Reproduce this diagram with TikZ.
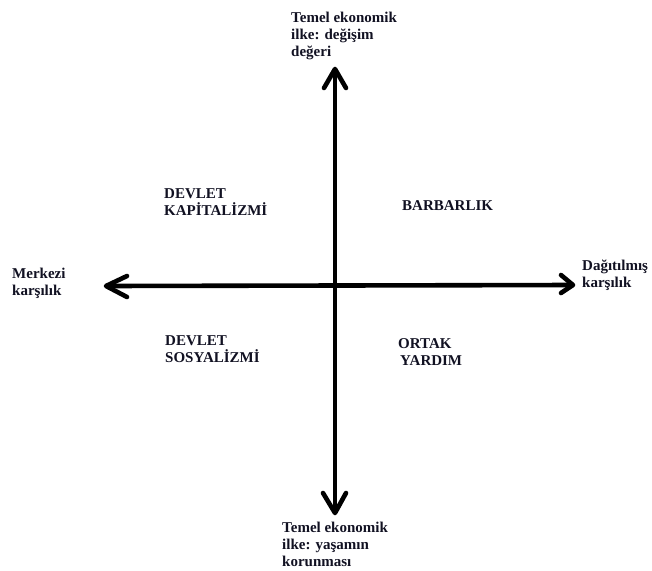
\documentclass[tikz,border=0pt]{standalone}
\usepackage{fontspec}
\setmainfont{Liberation Serif}
\definecolor{txt}{HTML}{111122}
\begin{document}
\begin{tikzpicture}[x=1pt,y=-1pt,
  lbl/.style={font=\bfseries\fontsize{15}{17}\selectfont, text=txt, anchor=base west, align=left, inner sep=0pt},
  axis/.style={line width=4.6pt, black},
  head/.style={line width=4.6pt, black, line cap=round, line join=round}]
\useasboundingbox (0,0) rectangle (652,570);
\clip (0,0) rectangle (652,570);
% axis end points
\coordinate (top) at (335,69);
\coordinate (bot) at (335,513);
\coordinate (lft) at (106,286);
\coordinate (rgt) at (573,285);
\draw[axis] (top) -- (bot);
\draw[axis] (lft) -- (rgt);
\draw[head] ([shift={(-11,19)}]top) -- (top) -- ([shift={(11,19)}]top);
\draw[head] ([shift={(-12,-20)}]bot) -- (bot) -- ([shift={(11,-20)}]bot);
\draw[head] ([shift={(21,-10)}]lft) -- (lft) -- ([shift={(21,11)}]lft);
\draw[head] ([shift={(-12,-10)}]rgt) -- (rgt) -- ([shift={(-12,8)}]rgt);
% labels (anchor = baseline of the last line)
\node[lbl] (ltop) at (291,56) {Temel ekonomik\\ilke: değişim\\değeri};
\node[lbl] (lbot) at (282,566) {Temel ekonomik\\ilke: yaşamın\\korunması};
\node[lbl] (llft) at (12,295) {Merkezi\\karşılık};
\node[lbl] (lrgt) at (582,287) {Dağıtılmış\\karşılık};
\node[lbl] (q1) at (164,215) {DEVLET\\KAPİTALİZMİ};
\node[lbl] (q2) at (402,210) {BARBARLIK};
\node[lbl] (q3) at (165,362) {DEVLET\\SOSYALİZMİ};
\node[lbl] (q4) at (398,365) {\hspace*{0pt}ORTAK\\\hspace*{2pt}YARDIM};
\end{tikzpicture}
\end{document}
